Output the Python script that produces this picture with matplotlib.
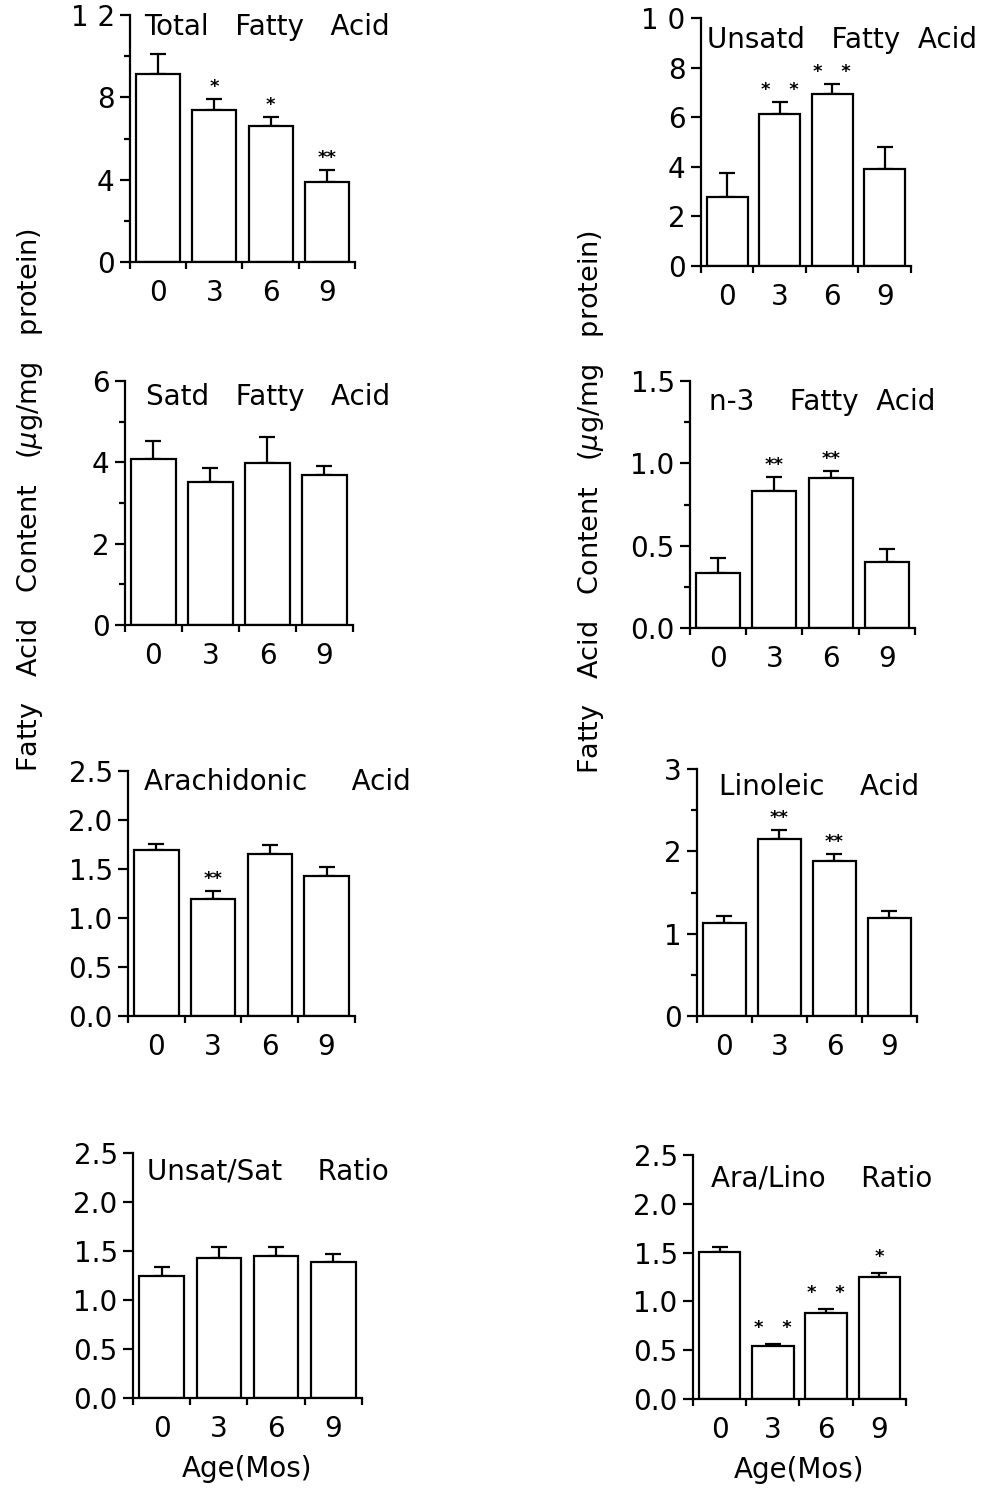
import matplotlib
matplotlib.use("Agg")
import matplotlib.pyplot as plt
import numpy as np

plt.rcParams['font.family'] = ['DejaVu Sans']

ages = ["0", "3", "6", "9"]

titles = ["Total   Fatty   Acid", "Unsatd   Fatty  Acid",
          "Satd   Fatty   Acid", "n-3    Fatty  Acid",
          "Arachidonic     Acid", "Linoleic    Acid",
          "Unsat/Sat    Ratio", "Ara/Lino    Ratio"]

total_fa = [9.13, 7.38, 6.6, 3.88]
total_fa_err = [0.97, 0.52, 0.44, 0.59]
unsatd_fa = [2.78, 6.13, 6.94, 3.91]
unsatd_fa_err = [0.97, 0.47, 0.40, 0.89]
satd_fa = [4.08, 3.52, 3.98, 3.70]
satd_fa_err = [0.44, 0.34, 0.64, 0.22]
n3_fa = [0.335, 0.83, 0.912, 0.40]
n3_fa_err = [0.09, 0.09, 0.04, 0.08]
arachidonic = [1.69, 1.19, 1.65, 1.43]
arachidonic_err = [0.07, 0.09, 0.09, 0.09]
linoleic = [1.13, 2.15, 1.88, 1.19]
linoleic_err = [0.08, 0.11, 0.09, 0.09]
unsat_sat = [1.245, 1.43, 1.45, 1.39]
unsat_sat_err = [0.095, 0.11, 0.09, 0.08]
ara_lino = [1.51, 0.54, 0.88, 1.25]
ara_lino_err = [0.05, 0.02, 0.04, 0.04]

stars = [["", "*", "*", "**"], ["", "*   *", "*   *", ""],
         ["", "", "", ""], ["", "**", "**", ""],
         ["", "**", "", ""], ["", "**", "**", ""],
         ["", "", "", ""], ["", "*   *", "*   *", "*"]]

values = [total_fa, unsatd_fa, satd_fa, n3_fa, arachidonic, linoleic, unsat_sat, ara_lino]
errors = [total_fa_err, unsatd_fa_err, satd_fa_err, n3_fa_err,
          arachidonic_err, linoleic_err, unsat_sat_err, ara_lino_err]

ymax = [12, 10, 6, 1.5, 2.5, 3, 2.5, 2.5]
major = [[0, 4, 8, 12], [0, 2, 4, 6, 8, 10], [0, 2, 4, 6], [0, 0.5, 1.0, 1.5],
         [0, 0.5, 1.0, 1.5, 2.0, 2.5], [0, 1, 2, 3],
         [0, 0.5, 1.0, 1.5, 2.0, 2.5], [0, 0.5, 1.0, 1.5, 2.0, 2.5]]
major_labels = [["0", "4", "8", "1 2"], ["0", "2", "4", "6", "8", "1 0"],
                ["0", "2", "4", "6"], ["0.0", "0.5", "1.0", "1.5"],
                ["0.0", "0.5", "1.0", "1.5", "2.0", "2.5"], ["0", "1", "2", "3"],
                ["0.0", "0.5", "1.0", "1.5", "2.0", "2.5"],
                ["0.0", "0.5", "1.0", "1.5", "2.0", "2.5"]]
minor = [[2, 6, 10], [], [1, 3, 5], [0.25, 0.75, 1.25], [], [0.5, 1.5, 2.5], [], []]

# pixel boxes: left, right, top, bottom
boxes = [(130, 355, 15, 262), (701, 911, 18, 266),
         (125, 353, 381, 625), (690, 915, 381, 628),
         (128, 355, 771, 1016), (697, 917, 769, 1016),
         (133, 362, 1153, 1398), (693, 906, 1155, 1399)]
title_pos = [(0.065, 0.919), (0.03, 0.879), (0.09, 0.90), (0.085, 0.883),
             (0.07, 0.922), (0.10, 0.895), (0.06, 0.89), (0.085, 0.869)]
star_offset = [5, 5, 5, 5, 5, 5, 5, 8]

W, H = 995, 1496
fig = plt.figure(figsize=(W / 100, H / 100), dpi=100)
FS = 20
LW = 1.6

for i in range(8):
    l, r, t, b = boxes[i]
    ax = fig.add_axes([l / W, 1 - b / H, (r - l) / W, (b - t) / H])
    x = np.arange(4)
    ax.errorbar(x, values[i], yerr=[np.zeros(4), errors[i]], fmt='none',
                ecolor='black', elinewidth=LW, capsize=6, capthick=LW, zorder=1)
    ax.bar(x, values[i], width=0.78, color='white', edgecolor='black',
           linewidth=LW, zorder=2)
    for j in range(4):
        if stars[i][j]:
            ax.annotate(stars[i][j], xy=(j, values[i][j] + errors[i][j]),
                        xytext=(0, star_offset[i]), textcoords='offset points',
                        ha='center', va='baseline', fontsize=13,
                        fontweight='bold')
    ax.set_xlim(-0.5, 3.5)
    ax.set_ylim(0, ymax[i])
    for s in ['top', 'right']:
        ax.spines[s].set_visible(False)
    for s in ['left', 'bottom']:
        ax.spines[s].set_linewidth(LW)
    ax.set_xticks(x)
    ax.set_xticklabels(ages, fontsize=FS)
    ax.set_xticks(np.arange(-0.5, 4.0, 1.0), minor=True)
    ax.tick_params(axis='x', which='major', length=0, pad=12)
    ax.tick_params(axis='x', which='minor', length=5, width=LW, direction='out')
    ax.set_yticks(major[i])
    ax.set_yticklabels(major_labels[i], fontsize=FS)
    ax.set_yticks(minor[i], minor=True)
    ax.tick_params(axis='y', which='major', length=7, width=LW, pad=4)
    ax.tick_params(axis='y', which='minor', length=4, width=LW)
    ax.text(title_pos[i][0], title_pos[i][1], titles[i], transform=ax.transAxes,
            fontsize=FS, ha='left', va='baseline')
    if i >= 6:
        ax.set_xlabel("Age(Mos)", fontsize=FS, labelpad=9)
    ax.patch.set_alpha(0)

ylab = "Fatty   Acid   Content   ($\\mu$g/mg   protein)"
fig.text(30 / W, 1 - 500 / H, ylab, rotation=90, ha='center', va='center', fontsize=19.5)
fig.text(591 / W, 1 - 502 / H, ylab, rotation=90, ha='center', va='center', fontsize=19.5)

fig.savefig("out.png", dpi=100, facecolor='white')
